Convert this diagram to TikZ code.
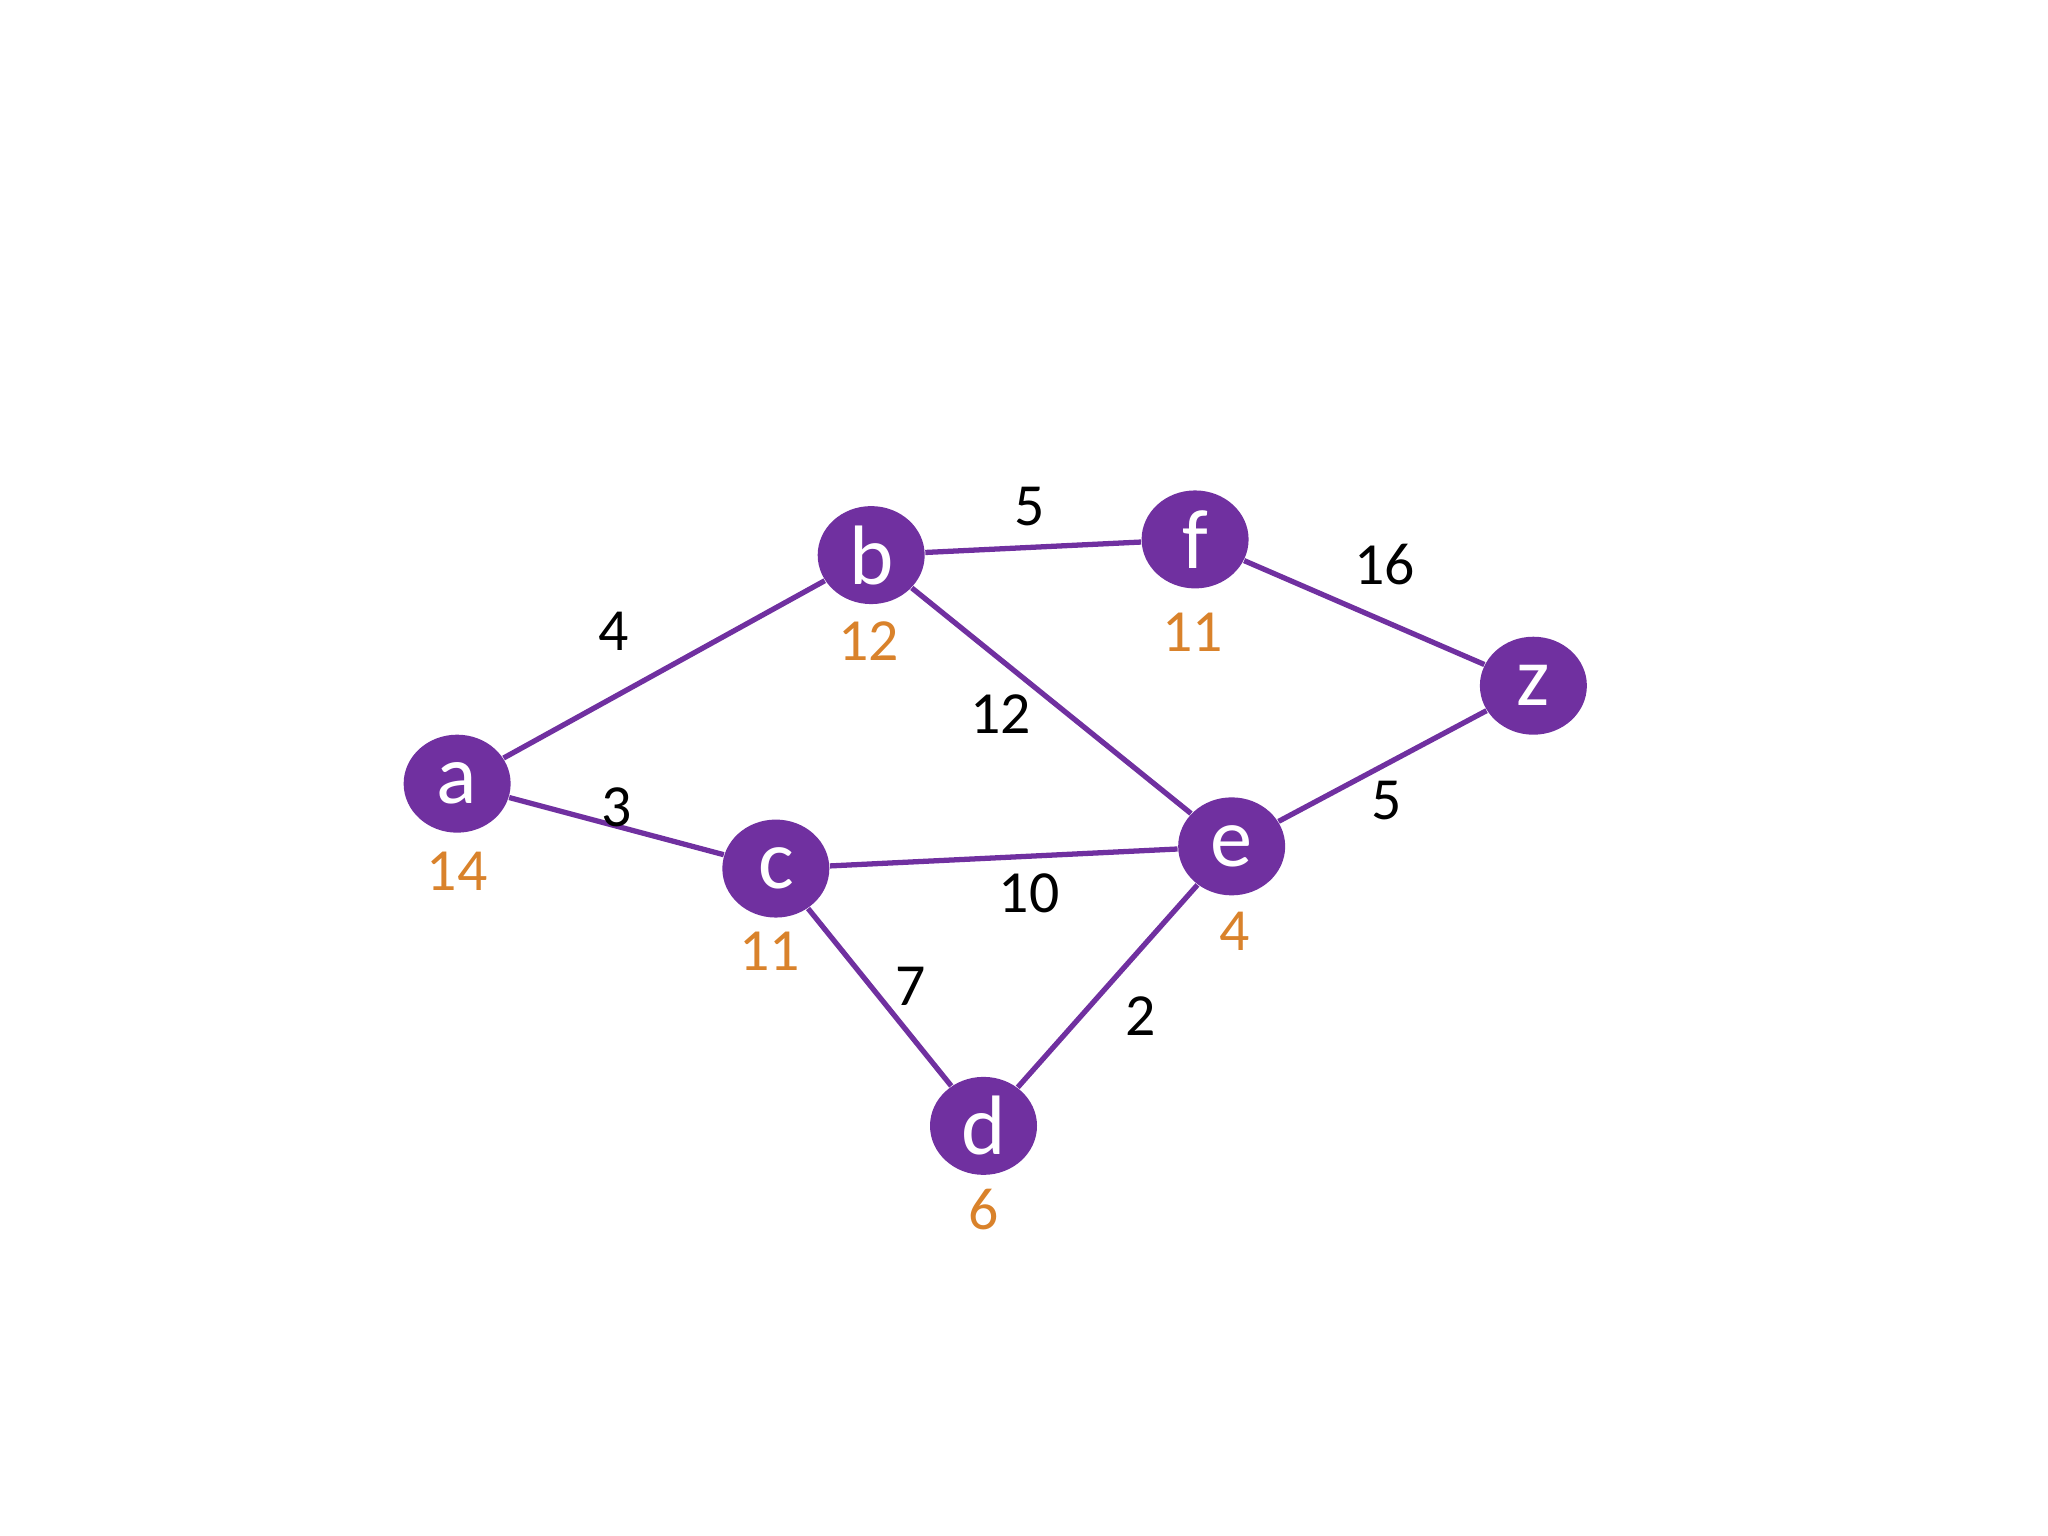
\documentclass[tikz,border=0pt]{standalone}
\usepackage{fontspec}
\setmainfont{Carlito}
\usetikzlibrary{shapes.geometric}
\definecolor{vpurple}{HTML}{7030A0}
\definecolor{vorange}{HTML}{D9822B}
\begin{document}
\begin{tikzpicture}[x=0.01306cm,y=-0.01306cm,
  vtx/.style={ellipse,fill=vpurple,text=white,minimum width=1.07cm,minimum height=0.98cm,inner sep=0pt,font=\fontsize{24}{24}\selectfont},
  edge/.style={draw=vpurple,line width=1.5pt},
  wt/.style={font=\fontsize{17}{17}\selectfont,text=black},
  hv/.style={font=\fontsize{17}{17}\selectfont,text=vorange}]
\useasboundingbox (0,0) rectangle (1568,1176);
\node[vtx] (a) at (350,600) {a};
\node[vtx] (b) at (667,425) {b};
\node[vtx] (f) at (915,413) {f};
\node[vtx] (z) at (1174,525) {z};
\node[vtx] (c) at (594,665) {c};
\node[vtx] (e) at (943,648) {e};
\node[vtx] (d) at (753,862) {d};
\begin{scope}[on background layer/.style={}]
\end{scope}
\draw[edge] (a) -- (b);
\draw[edge] (b) -- (f);
\draw[edge] (f) -- (z);
\draw[edge] (b) -- (e);
\draw[edge] (a) -- (c);
\draw[edge] (c) -- (e);
\draw[edge] (e) -- (z);
\draw[edge] (c) -- (d);
\draw[edge] (d) -- (e);
\node[wt] (w1) at (470,483) {4};
\node[wt] (w2) at (788,388) {5};
\node[wt] (w3) at (1060,432) {16};
\node[wt] (w4) at (766,547) {12};
\node[wt] (w5) at (472,618) {3};
\node[wt] (w6) at (788,684) {10};
\node[wt] (w7) at (1062,613) {5};
\node[wt] (w8) at (697,755) {7};
\node[wt] (w9) at (873,778) {2};
\node[hv] (h1) at (350,667) {14};
\node[hv] (h2) at (665,491) {12};
\node[hv] (h3) at (913,484) {11};
\node[hv] (h4) at (589,728) {11};
\node[hv] (h5) at (945,713) {4};
\node[hv] (h6) at (753,926) {6};
\end{tikzpicture}
\end{document}
